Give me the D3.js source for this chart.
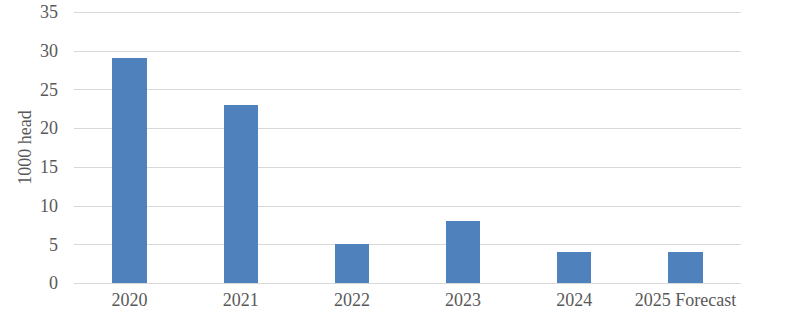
<!DOCTYPE html>
<html><head><meta charset="utf-8">
<script src="https://cdn.jsdelivr.net/npm/d3@7"></script>
<style>body{margin:0;background:#fff}svg{display:block}
svg text{font-family:"Liberation Serif","Times New Roman",Tinos,"DejaVu Serif",serif !important;}</style>
</head><body><svg id="c" width="800" height="324"></svg>
<script>
const categories = ["2020","2021","2022","2023","2024","2025 Forecast"];
const values = [29,23,5,8,4,4];
const yTicks = [0,5,10,15,20,25,30,35];
const yLabel = "1000 head";

const svg = d3.select("#c");
const m = {l:74, r:59, t:12, b:41};
const W = 800, H = 324;
const x = d3.scaleBand().domain(categories).range([m.l, W-m.r]).paddingInner(0.69).paddingOuter(0.345);
const y = d3.scaleLinear().domain([0,35]).range([H-m.b, m.t]);
const txt = "#595959";

const grid = svg.append("g").attr("transform",`translate(${m.l},0)`)
  .call(d3.axisLeft(y).tickValues(yTicks).tickSize(-(W-m.l-m.r)).tickFormat(""));
grid.select(".domain").remove();
grid.selectAll(".tick line").attr("stroke","#d9d9d9").attr("stroke-width",1).attr("shape-rendering","crispEdges");

const ya = svg.append("g").attr("transform",`translate(${m.l},0)`)
  .call(d3.axisLeft(y).tickValues(yTicks).tickSize(0).tickPadding(16));
ya.select(".domain").remove();
ya.selectAll("text").attr("font-size",18).attr("fill",txt);

svg.append("g").selectAll("rect").data(values).join("rect")
  .attr("x",(d,i)=>x(categories[i])).attr("width",x.bandwidth())
  .attr("y",d=>y(d)).attr("height",d=>y(0)-y(d))
  .attr("fill","#4f81bd").attr("shape-rendering","crispEdges");

const xa = svg.append("g").attr("transform",`translate(0,${H-m.b})`)
  .call(d3.axisBottom(x).tickSize(0).tickPadding(10));
xa.select(".domain").remove();
xa.selectAll("text").attr("font-size",18).attr("fill",txt);

svg.append("text").attr("transform",`translate(31,${(y(0)+y(35))/2}) rotate(-90)`)
  .attr("text-anchor","middle").attr("font-size",18).attr("fill",txt)
  .text(yLabel);
</script></body></html>
